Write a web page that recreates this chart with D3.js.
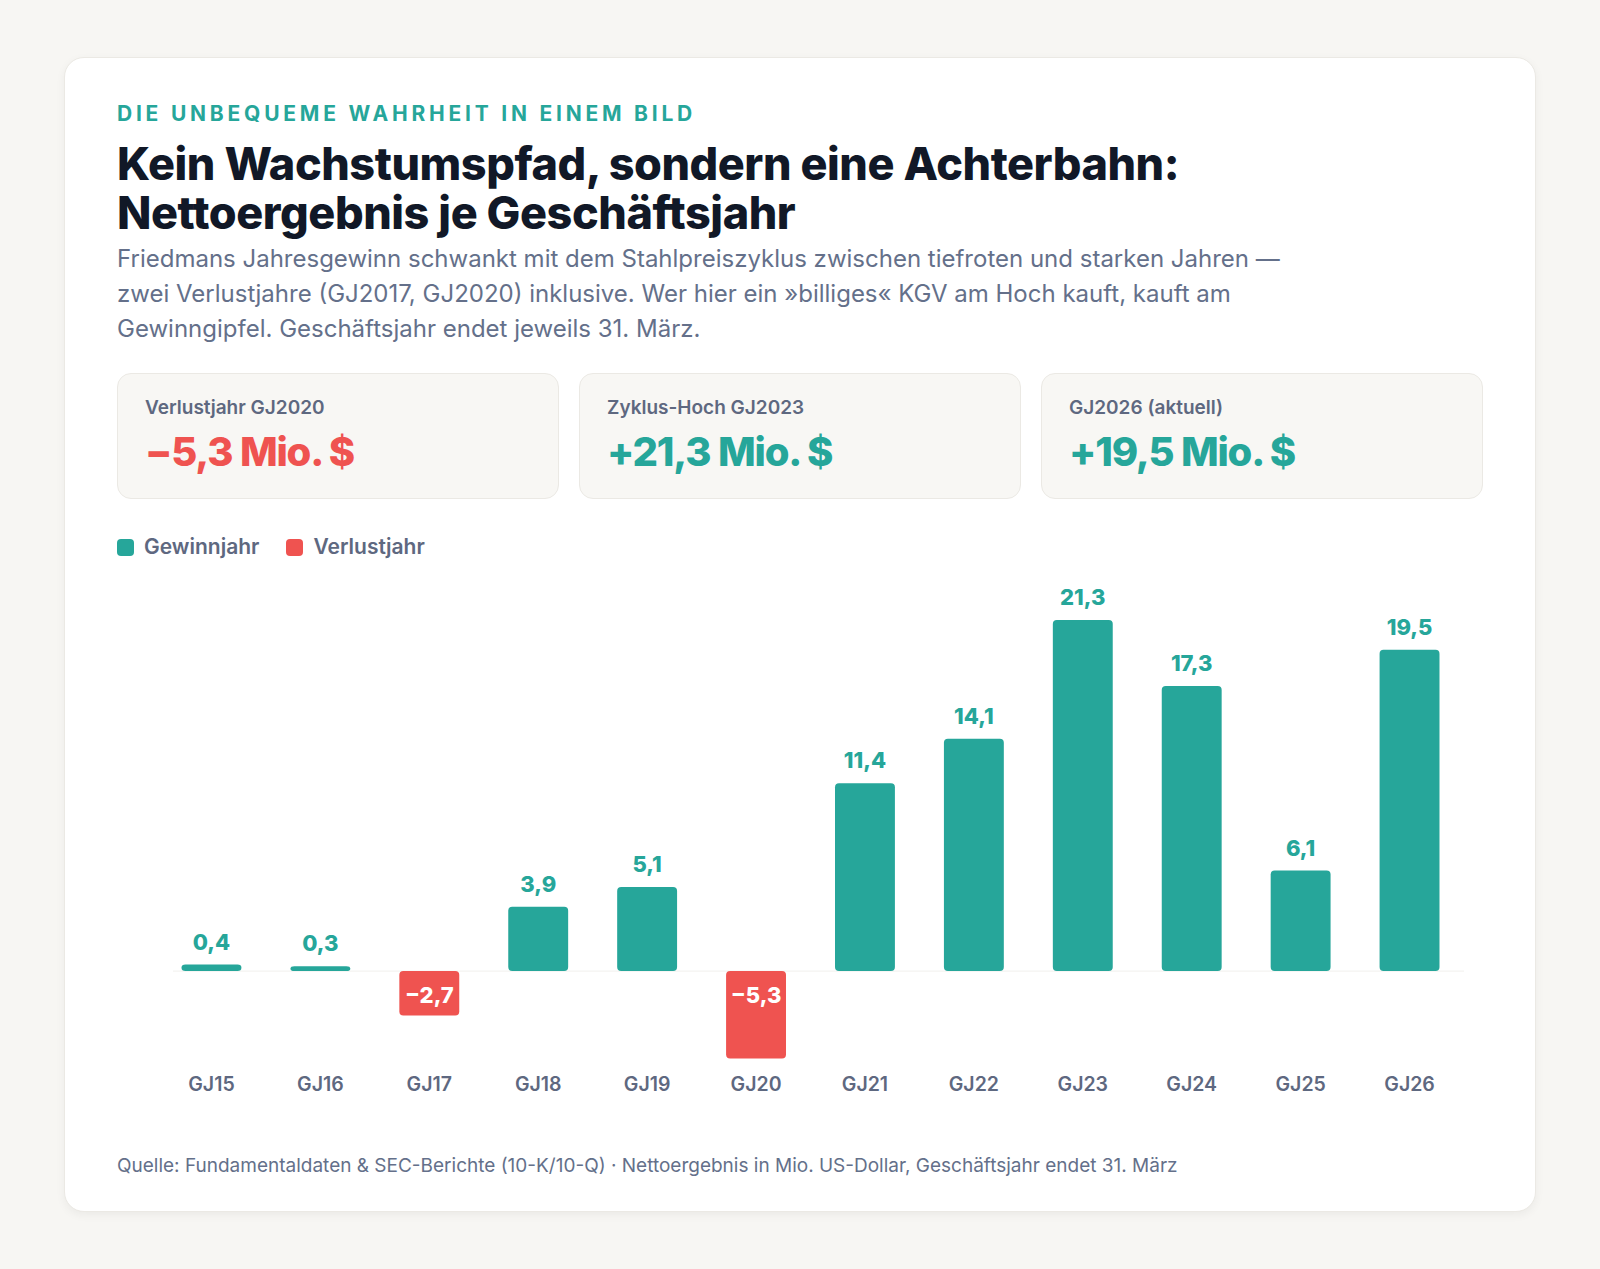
<!DOCTYPE html>
<html lang="de">
<head>
<meta charset="utf-8">
<script src="https://cdn.jsdelivr.net/npm/d3@7"></script>
<style>
  html, body { margin: 0; padding: 0; }
  body {
    width: 1600px; height: 1269px; background: #f7f6f3;
    font-family: Inter, "Noto Sans", sans-serif; position: relative; overflow: hidden;
  }
  .card {
    position: absolute; left: 64px; top: 57px; width: 1472px; height: 1155px;
    background: #fff; border-radius: 20px; border: 1px solid #ebe9e4; box-sizing: border-box;
    box-shadow: 0 3px 10px rgba(0,0,0,0.05);
  }
  .eyebrow {
    position: absolute; left: 52px; top: 43px; font-size: 21px; line-height: 26px;
    font-weight: 700; letter-spacing: 0.18em; color: #26a69a;
  }
  .title {
    position: absolute; left: 52px; top: 81px; font-size: 45px; line-height: 49px;
    font-weight: 800; letter-spacing: -0.01em; color: #111827; margin: 0;
  }
  .sub {
    position: absolute; left: 52px; top: 183px; font-size: 24px; line-height: 35px;
    color: #64708a; white-space: nowrap;
  }
  .kpi {
    position: absolute; top: 315px; width: 442px; height: 126px; box-sizing: border-box;
    background: #f8f7f4; border: 1px solid #ebe9e4; border-radius: 14px;
  }
  .kpi .lab { position: absolute; left: 27px; top: 21px; font-size: 19px; line-height: 26px; font-weight: 600; color: #5e6880; }
  .kpi .val { position: absolute; left: 27px; top: 54px; font-size: 40px; line-height: 48px; font-weight: 800; letter-spacing: -0.03em; }
  .legend { position: absolute; left: 52px; top: 476px; display: flex; align-items: center; font-size: 21px; font-weight: 600; color: #5e6880; }
  .legend .sw { width: 17px; height: 17px; border-radius: 4px; margin-right: 10px; }
  .legend .item { display: flex; align-items: center; margin-right: 27px; line-height: 26px; }
  .foot { position: absolute; left: 52px; top: 1095px; font-size: 19px; line-height: 26px; color: #64708a; }
  svg { position: absolute; left: 0; top: 503px; }
</style>
</head>
<body>
<div class="card" id="card">
  <div class="eyebrow">DIE UNBEQUEME WAHRHEIT IN EINEM BILD</div>
  <h1 class="title">Kein Wachstumspfad, sondern eine Achterbahn:<br>Nettoergebnis je Geschäftsjahr</h1>
  <div class="sub">Friedmans Jahresgewinn schwankt mit dem Stahlpreiszyklus zwischen tiefroten und starken Jahren —<br>zwei Verlustjahre (GJ2017, GJ2020) inklusive. Wer hier ein »billiges« KGV am Hoch kauft, kauft am<br>Gewinngipfel. Geschäftsjahr endet jeweils 31. März.</div>
  <div class="legend" id="legend"></div>
  <div class="foot">Quelle: Fundamentaldaten &amp; SEC-Berichte (10-K/10-Q) · Nettoergebnis in Mio. US-Dollar, Geschäftsjahr endet 31. März</div>
</div>
<script>
// Nettoergebnis in Mio. US-Dollar
var years = ['GJ15', 'GJ16', 'GJ17', 'GJ18', 'GJ19', 'GJ20', 'GJ21', 'GJ22', 'GJ23', 'GJ24', 'GJ25', 'GJ26'];
var netIncome = [0.4, 0.3, -2.7, 3.9, 5.1, -5.3, 11.4, 14.1, 21.3, 17.3, 6.1, 19.5];

var kpiLabels = ['Verlustjahr GJ2020', 'Zyklus-Hoch GJ2023', 'GJ2026 (aktuell)'];
var kpiValues = [-5.3, 21.3, 19.5];

var legendLabels = ['Gewinnjahr', 'Verlustjahr'];

var teal = '#26a69a',
  red = '#ef5350',
  card = d3.select('#card');

var fmt = (v) => (v < 0 ? '\u2212' : '') + d3.format('.1f')(Math.abs(v)).replace('.', ',');

// KPI-Kacheln
card.selectAll('div.kpi')
  .data(kpiLabels)
  .enter()
  .append('div')
  .attr('class', 'kpi')
  .style('left', (d, i) => 52 + i * 462 + 'px')
  .each(function (d, i) {
    var box = d3.select(this);
    var v = kpiValues[i];
    box.append('div').attr('class', 'lab').text(d);
    box.append('div')
      .attr('class', 'val')
      .style('color', v < 0 ? red : teal)
      .text((v < 0 ? '' : '+') + fmt(v) + ' Mio. $');
  });

// Legende
var items = d3.select('#legend')
  .selectAll('div.item')
  .data(legendLabels)
  .enter()
  .append('div')
  .attr('class', 'item');
items.append('div').attr('class', 'sw').style('background', (d, i) => (i ? red : teal));
items.append('span').text((d) => d);

// Balkendiagramm
var width = 1472,
  height = 560;

var svg = card.append('svg').attr('width', width).attr('height', height);

var xScale = d3.scaleBand()
    .domain(years)
    .range([92, 1399])
    .paddingInner(0.45)
    .paddingOuter(0.225),
  yScale = d3.scaleLinear().domain([-6, 22]).range([509, 47.5]);

var data = years.map((y, i) => ({ year: y, value: netIncome[i] }));

// Nulllinie
svg.append('line')
  .attr('x1', xScale.range()[0] + 16)
  .attr('x2', xScale.range()[1])
  .attr('y1', yScale(0))
  .attr('y2', yScale(0))
  .attr('stroke', '#f1f0ed')
  .attr('stroke-width', 1);

svg.selectAll('rect.bar')
  .data(data)
  .enter()
  .append('rect')
  .attr('class', 'bar')
  .attr('x', (d) => xScale(d.year))
  .attr('width', xScale.bandwidth())
  .attr('y', (d) => yScale(Math.max(0, d.value)))
  .attr('height', (d) => Math.abs(yScale(d.value) - yScale(0)))
  .attr('rx', 4)
  .attr('fill', (d) => (d.value < 0 ? red : teal));

svg.selectAll('text.val')
  .data(data)
  .enter()
  .append('text')
  .attr('class', 'val')
  .attr('x', (d) => xScale(d.year) + xScale.bandwidth() / 2)
  .attr('y', (d) => (d.value < 0 ? yScale(0) + 32 : yScale(d.value) - 15))
  .attr('text-anchor', 'middle')
  .attr('font-size', 22)
  .attr('font-weight', 800)
  .attr('fill', (d) => (d.value < 0 ? '#fff' : teal))
  .text((d) => fmt(d.value));

// x-Achse
var xAxis = d3.axisBottom(xScale).tickSize(0).tickPadding(0);
var gx = svg.append('g').attr('transform', 'translate(0, 530)').call(xAxis);
gx.select('.domain').remove();
gx.selectAll('text')
  .attr('dy', 0)
  .attr('font-family', 'Inter, sans-serif')
  .attr('font-size', 19.5)
  .attr('font-weight', 600)
  .attr('fill', '#5e6880');
</script>
</body>
</html>
